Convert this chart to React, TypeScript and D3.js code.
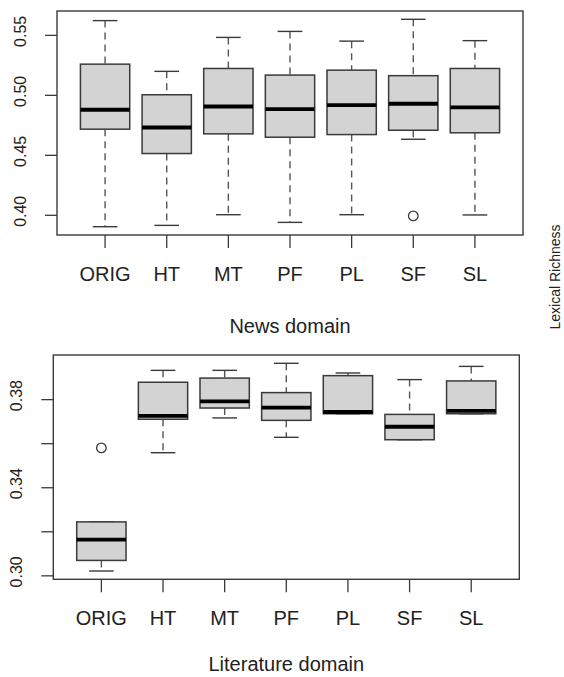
import React from "react";
import * as d3 from "d3";

const categories = ["ORIG", "HT", "MT", "PF", "PL", "SF", "SL"];

// News domain five-number summaries
const newsLow = [0.3905, 0.3916, 0.4005, 0.3941, 0.4005, 0.4634, 0.4003];
const newsQ1 = [0.4718, 0.4515, 0.4679, 0.4651, 0.4673, 0.4709, 0.4688];
const newsMedian = [0.488, 0.4732, 0.4907, 0.4885, 0.4918, 0.493, 0.4899];
const newsQ3 = [0.526, 0.5005, 0.5224, 0.5169, 0.521, 0.5164, 0.5224];
const newsHigh = [0.5623, 0.52, 0.5483, 0.5533, 0.5452, 0.5634, 0.5456];
const newsOutliers: number[][] = [[], [], [], [], [], [0.3995], []];
const newsTicks = [0.4, 0.45, 0.5, 0.55];
const newsTickLabels = ["0.40", "0.45", "0.50", "0.55"];

// Literature domain five-number summaries
const litLow = [0.3022, 0.3559, 0.3717, 0.3629, 0.3736, 0.3618, 0.3736];
const litQ1 = [0.307, 0.3711, 0.3762, 0.3706, 0.3736, 0.3618, 0.3736];
const litMedian = [0.3164, 0.3726, 0.3792, 0.3764, 0.3744, 0.3677, 0.3749];
const litQ3 = [0.3245, 0.3879, 0.3898, 0.3832, 0.3909, 0.3733, 0.3885];
const litHigh = [0.3245, 0.3933, 0.3933, 0.3965, 0.3921, 0.3891, 0.3951];
const litOutliers: number[][] = [[0.3581], [], [], [], [], [], []];
const litTicks = [0.3, 0.32, 0.34, 0.36, 0.38];
const litTickLabels = ["0.30", "", "0.34", "", "0.38"];

const FONT = "'Liberation Sans', Arial, sans-serif";

type PanelProps = {
  left: number;
  right: number;
  top: number;
  bottom: number;
  low: number[];
  q1: number[];
  med: number[];
  q3: number[];
  high: number[];
  outliers: number[][];
  ticks: number[];
  tickLabels: string[];
  title: string;
  titleOffset: number;
};

function Panel(p: PanelProps) {
  const all = [...p.low, ...p.high, ...p.outliers.flat()];
  const [mn, mx] = d3.extent(all) as [number, number];
  const pad = (mx - mn) * 0.04;
  const y = d3.scaleLinear().domain([mn - pad, mx + pad]).range([p.bottom, p.top]);
  const n = categories.length;
  const x = d3
    .scaleLinear()
    .domain([0.5 - n * 0.04, n + 0.5 + n * 0.04])
    .range([p.left, p.right]);
  const unit = x(1) - x(0);
  const boxW = unit * 0.8;
  const stapleW = boxW * 0.5;
  const tickLen = 12;
  const stroke = "#3a3a3a";

  return (
    <g>
      {categories.map((c, i) => {
        const cx = x(i + 1);
        return (
          <g key={c}>
            <line x1={cx} x2={cx} y1={y(p.high[i])} y2={y(p.q3[i])} stroke="#555" strokeWidth={1.4} strokeDasharray="7,5" />
            <line x1={cx} x2={cx} y1={y(p.q1[i])} y2={y(p.low[i])} stroke="#555" strokeWidth={1.4} strokeDasharray="7,5" />
            <line x1={cx - stapleW / 2} x2={cx + stapleW / 2} y1={y(p.high[i])} y2={y(p.high[i])} stroke={stroke} strokeWidth={1.4} />
            <line x1={cx - stapleW / 2} x2={cx + stapleW / 2} y1={y(p.low[i])} y2={y(p.low[i])} stroke={stroke} strokeWidth={1.4} />
            <rect
              x={cx - boxW / 2}
              y={y(p.q3[i])}
              width={boxW}
              height={Math.max(0.5, y(p.q1[i]) - y(p.q3[i]))}
              fill="#d3d3d3"
              stroke={stroke}
              strokeWidth={1.5}
            />
            <line x1={cx - boxW / 2} x2={cx + boxW / 2} y1={y(p.med[i])} y2={y(p.med[i])} stroke="#000" strokeWidth={3.8} />
            {p.outliers[i].map((o, j) => (
              <circle key={j} cx={cx} cy={y(o)} r={4.8} fill="none" stroke={stroke} strokeWidth={1.3} />
            ))}
            <line x1={cx} x2={cx} y1={p.bottom} y2={p.bottom + tickLen + 1} stroke={stroke} strokeWidth={1.3} />
            <text x={cx} y={p.bottom + 45.5} textAnchor="middle" fontSize={20} fontFamily={FONT} fill="#222">
              {c}
            </text>
          </g>
        );
      })}
      <rect x={p.left} y={p.top} width={p.right - p.left} height={p.bottom - p.top} fill="none" stroke={stroke} strokeWidth={1.4} />
      {p.ticks.map((t, i) => (
        <g key={t}>
          <line x1={p.left - tickLen} x2={p.left} y1={y(t)} y2={y(t)} stroke={stroke} strokeWidth={1.3} />
          {p.tickLabels[i] && (
            <text
              transform={`translate(${p.left - 37},${y(t) - 4}) rotate(-90)`}
              textAnchor="middle"
              dominantBaseline="central"
              fontSize={16}
              fontFamily={FONT}
              fill="#222"
            >
              {p.tickLabels[i]}
            </text>
          )}
        </g>
      ))}
      <text x={(p.left + p.right) / 2} y={p.bottom + p.titleOffset} textAnchor="middle" fontSize={20} fontFamily={FONT} fill="#222">
        {p.title}
      </text>
    </g>
  );
}

export default function App() {
  return (
    <svg
      width={564}
      height={677}
      style={{ position: "absolute", left: 0, top: 0, background: "#fff" }}
    >
      <rect width={564} height={677} fill="#fff" />
      <Panel
        left={57}
        right={523}
        top={11}
        bottom={235}
        low={newsLow}
        q1={newsQ1}
        med={newsMedian}
        q3={newsQ3}
        high={newsHigh}
        outliers={newsOutliers}
        ticks={newsTicks}
        tickLabels={newsTickLabels}
        title="News domain"
        titleOffset={98}
      />
      <Panel
        left={53.3}
        right={519.3}
        top={355}
        bottom={579.3}
        low={litLow}
        q1={litQ1}
        med={litMedian}
        q3={litQ3}
        high={litHigh}
        outliers={litOutliers}
        ticks={litTicks}
        tickLabels={litTickLabels}
        title="Literature domain"
        titleOffset={92}
      />
      <text
        transform="translate(555,277) rotate(-90)"
        textAnchor="middle"
        dominantBaseline="central"
        fontSize={14}
        fontFamily={FONT}
        fill="#222"
      >
        Lexical Richness
      </text>
    </svg>
  );
}
